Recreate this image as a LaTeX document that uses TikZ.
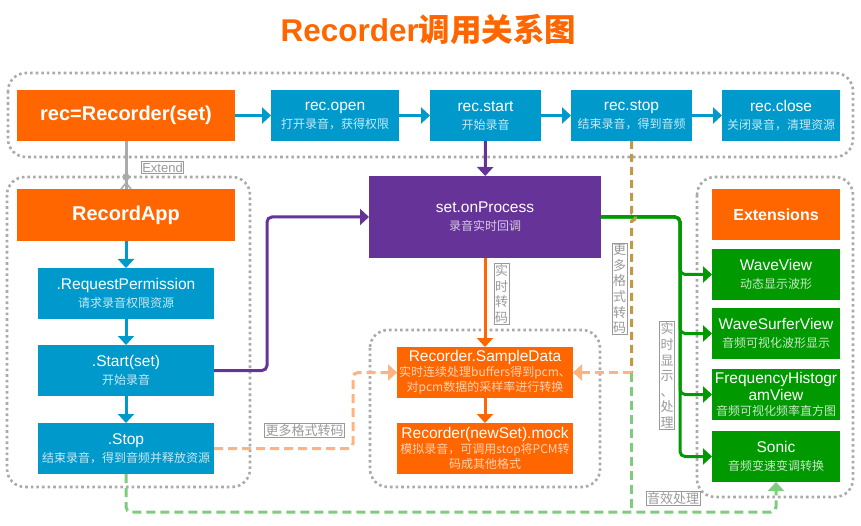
\documentclass[tikz,border=0pt]{standalone}
\usepackage{fontspec}
\setmainfont{Liberation Sans}
\newfontfamily\cjk{Noto Sans CJK SC}
\usetikzlibrary{arrows.meta,positioning,calc}

\definecolor{cblue}{HTML}{0099CC}
\definecolor{corange}{HTML}{FF6600}
\definecolor{cpurple}{HTML}{663399}
\definecolor{cgreen}{HTML}{009900}
\definecolor{cpeach}{HTML}{FFB380}
\definecolor{clgreen}{HTML}{7FCC7F}
\definecolor{cgold}{HTML}{BF9B45}
\definecolor{cdots}{HTML}{AAAAAA}
\definecolor{clabel}{HTML}{999999}

\newcommand{\subline}[1]{{\cjk\fontsize{12}{14}\selectfont\color{subc}#1}}

\tikzset{
  box/.style={rectangle, outer sep=0pt, inner sep=2pt, align=center, text=white,
    font=\fontsize{15.5}{18}\selectfont},
  bluebox/.style={box, fill=cblue, execute at begin node={\colorlet{subc}{white!78!cblue}}},
  orangebox/.style={box, fill=corange, execute at begin node={\colorlet{subc}{white!70!corange}}},
  purplebox/.style={box, fill=cpurple, execute at begin node={\colorlet{subc}{white!75!cpurple}}},
  greenbox/.style={box, fill=cgreen, execute at begin node={\colorlet{subc}{white!78!cgreen}}},
  headbox/.style={box, fill=corange, font=\fontsize{20}{24}\selectfont\bfseries},
  groupbox/.style={draw=cdots, line width=2.6pt, dash pattern=on 2.6pt off 3pt, rounded corners=18pt},
  tip/.style={-{Triangle[length=9pt,width=16pt]}},
  blueline/.style={draw=cblue, line width=3pt, tip},
  purpleline/.style={draw=cpurple, line width=3pt, tip, rounded corners=5pt},
  orangeline/.style={draw=corange, line width=3pt, tip},
  greenline/.style={draw=cgreen, line width=3pt, tip, rounded corners=5pt},
  peachdash/.style={draw=cpeach, line width=3pt, dash pattern=on 9pt off 5pt, rounded corners=5pt},
  greendash/.style={draw=clgreen, line width=3pt, dash pattern=on 9pt off 5pt, rounded corners=5pt},
  golddash/.style={draw=cgold, line width=3pt, dash pattern=on 8pt off 5pt},
  lbl/.style={draw=clabel, line width=0.8pt, fill=white, text=clabel, inner sep=1pt,
    align=center, font=\cjk\fontsize{13}{15.6}\selectfont},
}

\begin{document}
\begin{tikzpicture}[x=1pt, y=1pt]
  \useasboundingbox (0,0) rectangle (861,-526);

  % title
  \node[text=corange, font=\fontsize{31.5}{35}\selectfont\bfseries] (title) at (428.5,-29) {Recorder{\cjk 调用关系图}};

  % groups
  \draw[groupbox] (8,-73) rectangle (853,-157);
  \draw[groupbox] (7,-177) rectangle (250,-487);
  \draw[groupbox] (370,-330) rectangle (600,-487);
  \draw[groupbox] (697,-177) rectangle (853,-497);

  % recorder chain
  \node[headbox, minimum width=218pt, minimum height=51pt] (rec) at (126,-115.5) {rec=Recorder(set)};
  \node[bluebox, minimum width=128pt, minimum height=51pt, right=36pt of rec] (recopen) {rec.open\\\subline{打开录音，获得权限}};
  \node[bluebox, minimum width=111pt, minimum height=51pt, right=31pt of recopen] (recstart) {rec.start\\\subline{开始录音}};
  \node[bluebox, minimum width=121pt, minimum height=51pt, right=30pt of recstart] (recstop) {rec.stop\\\subline{结束录音，得到音频}};
  \node[bluebox, minimum width=118pt, minimum height=51pt, right=30pt of recstop] (recclose) {rec.close\\\subline{关闭录音，清理资源}};
  \draw[blueline] (rec) -- (recopen);
  \draw[blueline] (recopen) -- (recstart);
  \draw[blueline] (recstart) -- (recstop);
  \draw[blueline] (recstop) -- (recclose);

  % RecordApp
  \node[headbox, minimum width=218pt, minimum height=52pt] (app) at (126,-215) {RecordApp};
  \node[bluebox, minimum width=176pt, minimum height=51pt, below=27pt of app] (appreq) {.RequestPermission\\\subline{请求录音权限资源}};
  \node[bluebox, minimum width=176pt, minimum height=51pt, below=26pt of appreq] (appstart) {.Start(set)\\\subline{开始录音}};
  \node[bluebox, minimum width=176pt, minimum height=51pt, below=27pt of appstart] (appstop) {.Stop\\\subline{结束录音，得到音频并释放资源}};
  \draw[blueline] (app) -- (appreq);
  \draw[blueline] (appreq) -- (appstart);
  \draw[blueline] (appstart) -- (appstop);

  % extend
  \draw[draw=cdots, line width=3pt] (rec.south) -- (app.north);
  \coordinate (extdot) at ($(app.north)+(0,12)$);
  \fill[cdots] (extdot) circle (3.6);
  \draw[cdots, line width=1.6pt] ($(app.north)+(-5,0)$) -- ($(app.north)+(0,6)$) -- ($(app.north)+(5,0)$);
  \node[lbl, font=\fontsize{13}{15}\selectfont] (extlbl) at (162.5,-167.5) {Extend};

  % processing
  \node[purplebox, minimum width=232pt, minimum height=82pt] (proc) at (485,-217) {set.onProcess\\\subline{录音实时回调}};
  \node[orangebox, minimum width=176pt, minimum height=51pt] (sample) at (485,-372.5)
    {Recorder.SampleData\\[-3pt]\subline{实时连续处理buffers得到pcm、}\\[-3pt]\subline{对pcm数据的采样率进行转换}};
  \node[orangebox, minimum width=176pt, minimum height=51pt, below=25pt of sample] (mock)
    {Recorder(newSet).mock\\[-3pt]\subline{模拟录音，可调用stop将PCM转}\\[-3pt]\subline{码成其他格式}};
  \draw[purpleline] (recstart) -- (proc);
  \draw[purpleline] (appstart.east) -- ++(53,0) |- (proc.west);
  \draw[orangeline] (proc) -- (sample);
  \draw[orangeline] (sample) -- (mock);
  \node[lbl] (lblrt) at (501.5,-294) {实\\时\\转\\码};

  % extensions
  \node[headbox, font=\fontsize{16}{19}\selectfont\bfseries, minimum width=128pt, minimum height=51pt] (ext) at (776,-214.5) {Extensions};
  \node[greenbox, minimum width=128pt, minimum height=51pt, below=9pt of ext] (waveview) {WaveView\\\subline{动态显示波形}};
  \node[greenbox, minimum width=128pt, minimum height=51pt, below=8pt of waveview] (surfer) {WaveSurferView\\\subline{音频可视化波形显示}};
  \node[greenbox, minimum width=128pt, minimum height=51pt, below=10pt of surfer, font=\fontsize{15.5}{17}\selectfont] (freq) {FrequencyHistogr\\amView\\[-2pt]\subline{音频可视化频率直方图}};
  \node[greenbox, minimum width=128pt, minimum height=51pt, below=11pt of freq] (sonic) {Sonic\\\subline{音频变速变调转换}};
  \foreach \t in {waveview,surfer,freq,sonic}
    \draw[greenline] (proc.east) -- ++(79,0) |- (\t.west);
  \node[lbl] (lblshow) at (667,-375.5) {实\\时\\显\\示\\、\\处\\理};

  % format conversion and effects
  \coordinate (split) at (recstop.south |- sample.east);
  \coordinate (bot) at (0,-512);
  \draw[golddash] (recstop.south) -- ($(recstop.south |- proc.east)+(0,4)$)
    arc[start angle=90, end angle=-90, radius=4] -- (split);
  \draw[peachdash, tip] (split) -- (sample.east);
  \draw[peachdash, tip] (appstop.east) -- ++(139,0) |- (sample.west);
  \draw[greendash] (split) -- (split |- bot);
  \draw[greendash, tip] (appstop.south) -- (appstop.south |- bot) -- (sonic.south |- bot) -- (sonic.south);
  \node[lbl] (lblfmt) at (619.5,-289) {更\\多\\格\\式\\转\\码};
  \node[lbl] (lblfmt2) at (304.5,-430.5) {更多格式转码};
  \node[lbl] (lblfx) at (673,-498.5) {音效处理};
\end{tikzpicture}
\end{document}
